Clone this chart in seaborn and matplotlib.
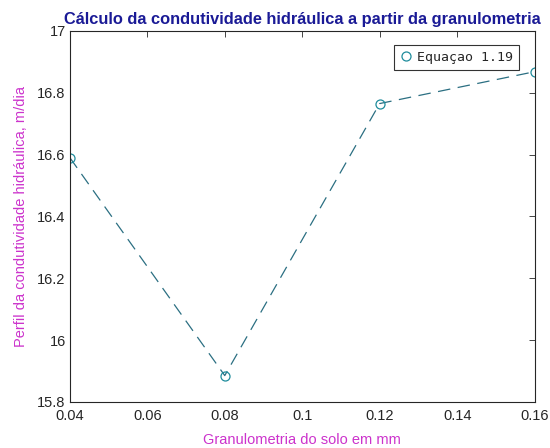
import numpy as np
import pandas as pd
import matplotlib
matplotlib.use('Agg')
import matplotlib.pyplot as plt
import seaborn as sns

# data
granulometria = [0.04, 0.08, 0.12, 0.16]
condutividade = [16.59, 15.885, 16.765, 16.868]
serie = 'Equaçao 1.19'
x_ticks = [0.04, 0.06, 0.08, 0.1, 0.12, 0.14, 0.16]
y_ticks = [15.8, 16, 16.2, 16.4, 16.6, 16.8, 17]

df = pd.DataFrame({'x': granulometria, 'y': condutividade})

sns.set_style('white')
plt.rcParams['font.family'] = ['Liberation Sans', 'DejaVu Sans']

fig = plt.figure(figsize=(5.5, 4.48), dpi=100)
ax = fig.add_axes([0.127, 0.103, 0.845, 0.828])

sns.lineplot(data=df, x='x', y='y', ax=ax, color='#2b6f82', linestyle='--',
             linewidth=0.9, marker='o', markersize=6.5, markerfacecolor='none',
             markeredgecolor='#1f8c9c', markeredgewidth=0.9, label=serie)
ax.lines[0].set_dashes((10, 6))

ax.set_xlim(0.04, 0.16)
ax.set_ylim(15.8, 17)
ax.set_xticks(x_ticks)
ax.set_xticklabels([f'{v:g}' for v in x_ticks])
ax.set_yticks(y_ticks)
ax.set_yticklabels([f'{v:g}' for v in y_ticks])
ax.tick_params(direction='in', top=True, right=True, length=4, width=0.6,
               labelsize=10.5, colors='#262626')
ax.tick_params(axis='x', pad=5)
ax.tick_params(axis='y', pad=3)
for s in ax.spines.values():
    s.set_color('#262626')
    s.set_linewidth(0.8)

ax.set_title('Cálculo da condutividade hidráulica a partir da granulometria',
             color='#1a1a96', fontweight='bold', fontsize=11.8, pad=5)
ax.set_xlabel('Granulometria do solo em mm', color='#cc33cc', fontsize=10.5,
              labelpad=7)
ax.set_ylabel('Perfil da condutividade hidráulica, m/dia', color='#cc33cc',
              fontsize=10.5, labelpad=7)

leg = ax.legend(loc='upper right', fontsize=9.5, frameon=True, fancybox=False,
                handlelength=0.9, handletextpad=0.4, borderpad=0.45,
                bbox_to_anchor=(0.98, 0.98))
leg.get_frame().set_edgecolor('black')
leg.get_frame().set_linewidth(0.8)
for t in leg.get_texts():
    t.set_fontfamily('DejaVu Sans Mono')
for h in leg.get_lines():
    h.set_linestyle('none')

fig.savefig('out.png', dpi=100)
